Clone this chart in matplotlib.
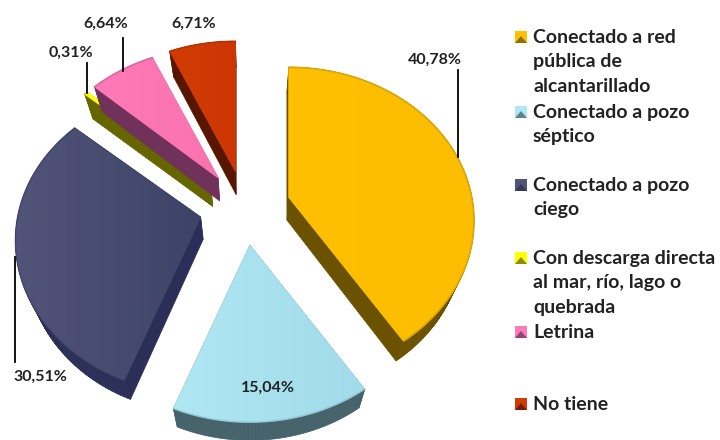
import numpy as np
import matplotlib
matplotlib.use("Agg")
import matplotlib.pyplot as plt
from matplotlib.patches import Polygon

plt.rcParams['font.family'] = ['Lato', 'DejaVu Sans']

# data, clockwise from 12 o'clock
categories = ['Conectado a red\npública de\nalcantarillado',
              'Conectado a pozo\nséptico',
              'Conectado a pozo\nciego',
              'Con descarga directa\nal mar, río, lago o\nquebrada',
              'Letrina',
              'No tiene']
values = [40.78, 15.04, 30.51, 0.31, 6.64, 6.71]
value_labels = ['40,78%', '15,04%', '30,51%', '0,31%', '6,64%', '6,71%']

# top face gradient (left, right) and side colour
face_left = ['#ffc000', '#afe7f3', '#525378', '#ffff00', '#ff7ab8', '#d23c04']
face_right = ['#fdbd00', '#a2dbe9', '#3d4468', '#ffff00', '#fb72b0', '#cc3603']
side_colors = ['#6b5200', '#46626a', '#2b2e57', '#666600', '#70325a', '#581500']

# pie geometry in pixels
CX, CY = 245, 208
RX, RY = 183, 150
PERSP = 0.153
EXPLODE = 0.25

LABEL_POS = [(435, 60), (268, 388), (40, 377), (71, 53), (106, 24), (194, 24)]
LEADERS = [((458, 70), (458, 157)), None, ((15, 257), (15, 362)),
           ((87, 63), (87, 93)), ((123, 38), (123, 71)), None]
LEGEND_Y = [37, 112, 185, 258, 332, 404]


def slice_outline(start, end):
    """Top face outline of one slice, perspective applied."""
    mid = np.radians((start + end) / 2)
    off_x = RX * EXPLODE * np.cos(mid)
    off_y = RY * EXPLODE * np.sin(mid)
    t = np.radians(np.linspace(start, end, max(int(abs(end - start)), 2) + 1))
    x = np.r_[0, np.cos(t)]
    y = np.r_[0, np.sin(t)]
    f = 1 / (1 + PERSP * y)
    return CX + off_x + RX * x * f, CY - off_y - RY * y * f


def drop(px, py):
    """Lower rim of the pie, points lean toward a vanishing point."""
    return px + (250 - px) * 0.05, py + (1263 - py) * 0.0214


fig = plt.figure(figsize=(7.2, 4.4), dpi=100)
ax = fig.add_axes([0, 0, 1, 1])

fracs = np.array(values) / sum(values) * 360
ends = 90 - np.cumsum(fracs)
starts = ends + fracs

for i in [2, 1, 0, 5, 4, 3]:
    px, py = slice_outline(starts[i], ends[i])
    bx, by = drop(px, py)
    z = 2 + i * 0.1
    # sides, edge by edge
    n = len(px)
    for j in range(n):
        k = (j + 1) % n
        ax.fill([px[j], px[k], bx[k], bx[j]], [py[j], py[k], by[k], by[j]],
                color=side_colors[i], lw=0.5, zorder=z)
    # flat face under the gradient, hides the side seams
    ax.fill(px, py, color=face_right[i], lw=0.8, zorder=z + 0.01)
    c0 = np.array(matplotlib.colors.to_rgb(face_left[i]))
    c1 = np.array(matplotlib.colors.to_rgb(face_right[i]))
    grad = np.linspace(c0, c1, 32)[None, :, :]
    im = ax.imshow(grad, extent=(px.min(), px.max(), py.max(), py.min()),
                   aspect='auto', zorder=z + 0.02)
    clip = Polygon(np.c_[px, py], closed=True, transform=ax.transData)
    im.set_clip_path(clip)
    # soft bevel along the arc
    ax.plot(px[1:], py[1:], color=side_colors[i], lw=1.5, alpha=0.18, zorder=z + 0.03)

for pos, txt, lead in zip(LABEL_POS, value_labels, LEADERS):
    ax.text(pos[0], pos[1], txt, ha='center', va='center', fontsize=11.5,
            fontweight='bold', color='#222222', zorder=6)
    if lead:
        ax.plot([lead[0][0], lead[1][0]], [lead[0][1], lead[1][1]],
                color='black', lw=1.3, zorder=5)

# legend
for i, (cat, y) in enumerate(zip(categories, LEGEND_Y)):
    ax.add_patch(Polygon([(515, y - 6), (527, y - 6), (527, y + 6), (515, y + 6)],
                         color=face_left[i], lw=0))
    ax.add_patch(Polygon([(515, y + 6), (521, y - 1), (527, y + 6)],
                         color=side_colors[i], lw=0, alpha=0.75))
    ax.text(533, y - 8, cat, ha='left', va='top', fontsize=14, fontweight='bold',
            color='#222222', linespacing=1.53)

ax.set_xlim(0, 720)
ax.set_ylim(440, 0)
ax.axis('off')

fig.savefig('out.png', dpi=100, facecolor='white')
